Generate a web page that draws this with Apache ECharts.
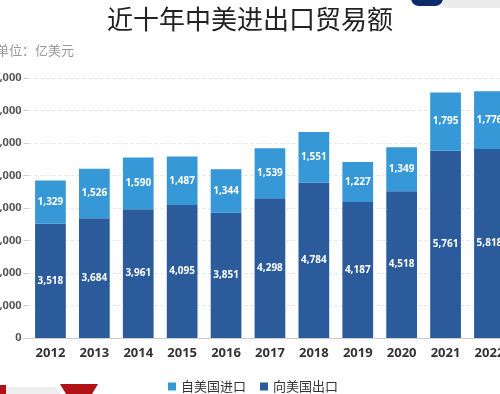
<!DOCTYPE html>
<html><head><meta charset="utf-8">
<script src="https://cdn.jsdelivr.net/npm/echarts@6/dist/echarts.min.js"></script>
<style>html,body{margin:0;padding:0;background:#fff;}#c{width:500px;height:394px;}</style>
</head><body><div id="c"></div>
<script>
const years = ['2012','2013','2014','2015','2016','2017','2018','2019','2020','2021','2022'];
const exportToUS = [3518,3684,3961,4095,3851,4298,4784,4187,4518,5761,5818];
const importFromUS = [1329,1526,1590,1487,1344,1539,1551,1227,1349,1795,1776];
const yTicks = {min:0, max:8000, interval:1000};

const chart = echarts.init(document.getElementById('c'));
const font = 'Noto Sans, "Noto Sans CJK SC", sans-serif';
chart.setOption({
  animation:false,
  textStyle:{fontFamily:font},
  title:[
    {text:'近十年中美进出口贸易额', left:'center', top:1, textStyle:{fontSize:26, fontWeight:'normal', color:'#222', fontFamily:'"Noto Sans CJK SC", sans-serif'}},
    {text:'单位：亿美元', left:-9, top:39, textStyle:{fontSize:13, fontWeight:'normal', color:'#999', fontFamily:'"Noto Sans CJK SC", sans-serif'}}
  ],
  graphic:[
    {type:'rect', shape:{x:440,y:-10,width:80,height:18,r:8}, style:{fill:'#ececec'}},
    {type:'rect', shape:{x:411,y:-10,width:32,height:16,r:8}, style:{fill:'#0d2a6b'}},
    {type:'rect', shape:{x:-10,y:387,width:70,height:12,r:6}, style:{fill:'#eeeeee'}},
    {type:'polygon', shape:{points:[[60,384],[98,384],[92,394],[66,394]]}, style:{fill:'#b01218'}},
    {type:'polygon', shape:{points:[[0,385],[6,385],[6,394],[0,394]]}, style:{fill:'#b01218'}}
  ],
  legend:{
    data:['自美国进口','向美国出口'], left:163, top:375, icon:'rect', itemWidth:8, itemHeight:8, itemGap:14,
    textStyle:{fontSize:13, color:'#333', fontFamily:'"Noto Sans CJK SC", sans-serif'}
  },
  grid:{left:28.5, right:-11.4, top:78, bottom:56, containLabel:false, outerBoundsMode:'none'},
  xAxis:{
    type:'category', data:years,
    axisLine:{lineStyle:{color:'#cccccc'}},
    axisTick:{show:false},
    axisLabel:{fontSize:13, color:'#333', fontWeight:'bold', margin:9}
  },
  yAxis:{
    type:'value', min:yTicks.min, max:yTicks.max, interval:yTicks.interval,
    axisLine:{show:false},
    axisTick:{show:true, length:5, inside:false, lineStyle:{color:'#cccccc'}},
    splitLine:{lineStyle:{color:'#e3e3e3', type:[3,3]}},
    axisLabel:{fontSize:11, color:'#555', fontWeight:'bold', margin:7,
      formatter:v=>v.toLocaleString('en-US')}
  },
  series:[
    {name:'向美国出口', type:'bar', stack:'t', data:exportToUS, barWidth:'70%',
      itemStyle:{color:'#2b5b9b'},
      label:{show:true, position:'inside', color:'#fff', fontSize:10, fontWeight:'bold',
        formatter:p=>p.value.toLocaleString('en-US')}},
    {name:'自美国进口', type:'bar', stack:'t', data:importFromUS, barWidth:'70%',
      itemStyle:{color:'#3698d7'},
      label:{show:true, position:'inside', color:'#fff', fontSize:10, fontWeight:'bold',
        formatter:p=>p.value.toLocaleString('en-US')}}
  ]
});
</script></body></html>
